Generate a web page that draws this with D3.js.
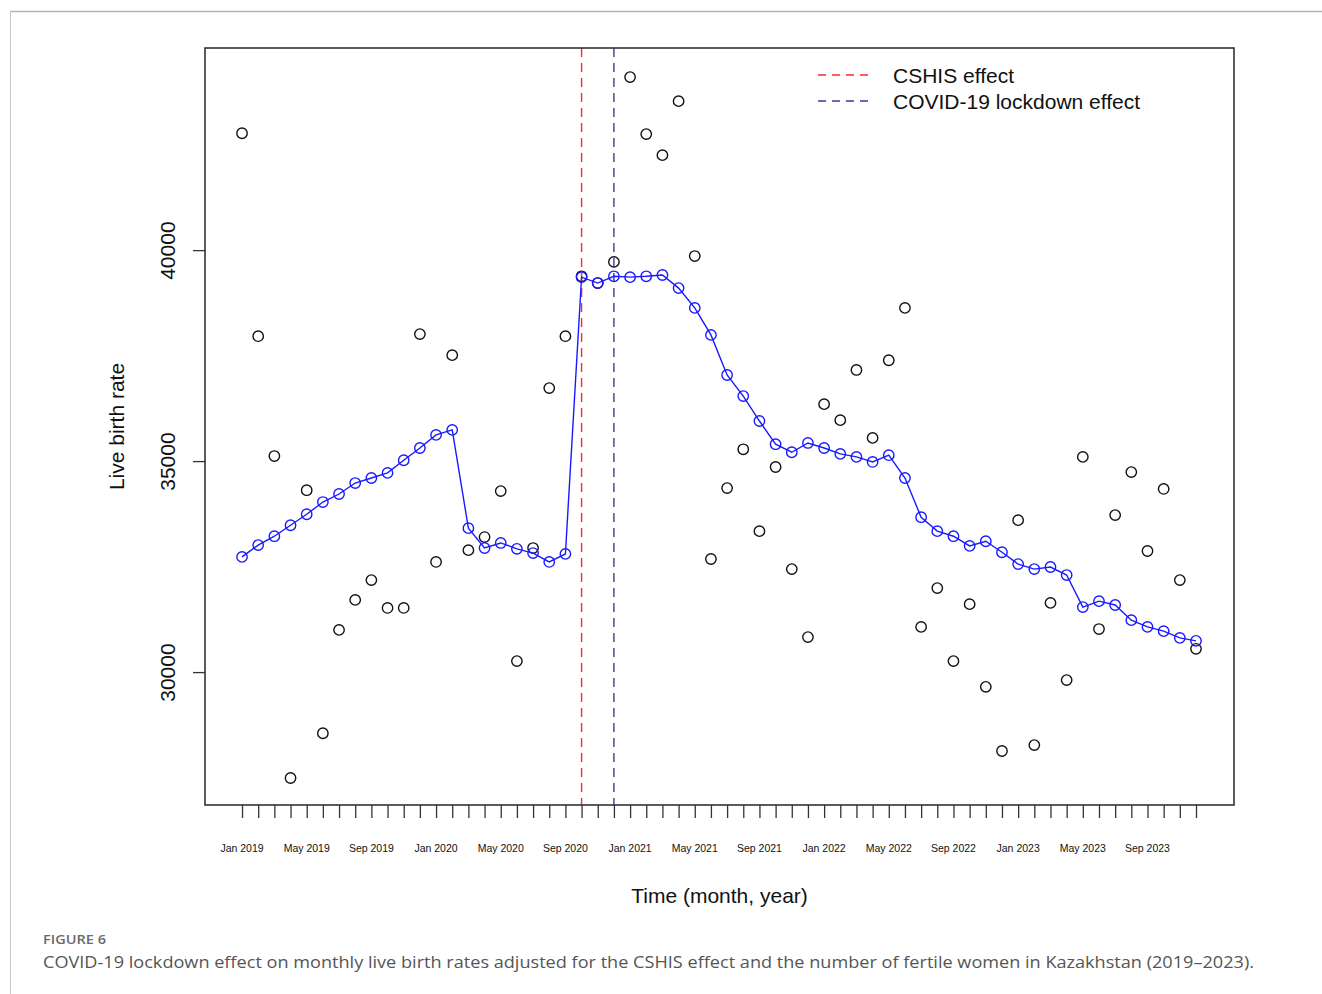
<!DOCTYPE html>
<html>
<head>
<meta charset="utf-8">
<script src="https://cdn.jsdelivr.net/npm/d3@7"></script>
<style>
  html, body { margin: 0; padding: 0; background: #fff; }
  #chart { width: 1322px; height: 994px; }
</style>
</head>
<body>
<div id="chart"></div>
<script>
// month labels Jan 2019 .. Dec 2023
const monthNames = ["Jan","Feb","Mar","Apr","May","Jun","Jul","Aug","Sep","Oct","Nov","Dec"];
const years = [2019, 2020, 2021, 2022, 2023];
const months = years.flatMap(y => monthNames.map(m => `${m} ${y}`));

// observed monthly live births (black circles)
const observed = [
  42770, 37960, 35120, 27490, 34310, 28550, 31000, 31710, 32180, 31520, 31520, 38010,
  32610, 37510, 32890, 33200, 34290, 30260, 32940, 36730, 37960, 39380, 39220, 39720,
  44100, 42750, 42250, 43530, 39860, 32680, 34360, 35280, 33340, 34860, 32440, 30830,
  36350, 35970, 37160, 35550, 37390, 38630, 31070, 31990, 30260, 31610, 29650, 28130,
  33600, 28270, 31640, 29810, 35100, 31020, 33720, 34740, 32870, 34340, 32180, 30550
];

// fitted values (blue line)
const fitted = [
  32730, 33010, 33220, 33480, 33740, 34030, 34220, 34480, 34600, 34720, 35020, 35310,
  35620, 35740, 33410, 32940, 33060, 32920, 32820, 32610, 32800, 39360, 39220, 39380,
  39360, 39380, 39410, 39100, 38630, 37990, 37040, 36540, 35950, 35400, 35210, 35430,
  35310, 35170, 35100, 34980, 35140, 34600, 33670, 33340, 33220, 32990, 33100, 32840,
  32560, 32440, 32490, 32300, 31540, 31680, 31590, 31230, 31070, 30970, 30810, 30740
];

const yTicks = [30000, 35000, 40000];
const xLabelEvery = 4; // Jan, May, Sep
const cshisIndex = 21;     // Oct 2020
const lockdownIndex = 23;  // Dec 2020

const legendItems = [
  { label: "CSHIS effect", color: "#ff2a2a" },
  { label: "COVID-19 lockdown effect", color: "#3b3b9c" }
];

const width = 1322, height = 994;
const box = { left: 205, right: 1234, top: 48, bottom: 805 };

const svg = d3.select("#chart").append("svg")
  .attr("width", width)
  .attr("height", height)
  .style("font-family", "'Liberation Sans', Arial, sans-serif");

// figure frame (journal style)
svg.append("line").attr("x1", 10).attr("x2", width).attr("y1", 11.5).attr("y2", 11.5)
  .attr("stroke", "#b4b4b4").attr("stroke-width", 1.5);
svg.append("line").attr("x1", 10.5).attr("x2", 10.5).attr("y1", 11).attr("y2", height)
  .attr("stroke", "#c4c4c4").attr("stroke-width", 1);

// month index scale, padded like R's default axis extension
const n = months.length;
const x = d3.scaleLinear().domain([-2.29, n - 1 + 2.35]).range([box.left, box.right]);
const y = d3.scaleLinear().domain([26850, 44790]).range([box.bottom, box.top]);

// reference lines
svg.append("line")
  .attr("x1", x(cshisIndex)).attr("x2", x(cshisIndex))
  .attr("y1", box.top).attr("y2", box.bottom)
  .attr("stroke", legendItems[0].color).attr("stroke-width", 1.4)
  .attr("stroke-dasharray", "9,6");
svg.append("line")
  .attr("x1", x(lockdownIndex)).attr("x2", x(lockdownIndex))
  .attr("y1", box.top).attr("y2", box.bottom)
  .attr("stroke", legendItems[1].color).attr("stroke-width", 1.4)
  .attr("stroke-dasharray", "9,6");

// observed points
svg.append("g")
  .selectAll("circle")
  .data(observed)
  .enter()
  .append("circle")
    .attr("cx", (d, i) => x(i))
    .attr("cy", d => y(d))
    .attr("r", 5.2)
    .attr("fill", "none")
    .attr("stroke", "#111")
    .attr("stroke-width", 1.4);

// fitted line + points
const line = d3.line().x((d, i) => x(i)).y(d => y(d));
svg.append("path")
  .datum(fitted)
  .attr("d", line)
  .attr("fill", "none")
  .attr("stroke", "#1a1aff")
  .attr("stroke-width", 1.4);
svg.append("g")
  .selectAll("circle")
  .data(fitted)
  .enter()
  .append("circle")
    .attr("cx", (d, i) => x(i))
    .attr("cy", d => y(d))
    .attr("r", 5.2)
    .attr("fill", "none")
    .attr("stroke", "#1a1aff")
    .attr("stroke-width", 1.4);

// plot box
svg.append("rect")
  .attr("x", box.left).attr("y", box.top)
  .attr("width", box.right - box.left).attr("height", box.bottom - box.top)
  .attr("fill", "none").attr("stroke", "#333").attr("stroke-width", 1.6);

// x axis: tick every month, label every 4th
const xAxis = svg.append("g")
  .attr("transform", `translate(0, ${box.bottom})`)
  .call(d3.axisBottom(x)
    .tickValues(d3.range(n))
    .tickSize(13)
    .tickFormat(() => ""));
xAxis.select(".domain").remove();
xAxis.selectAll(".tick line").attr("stroke", "#333").attr("stroke-width", 1.3);

svg.append("g")
  .selectAll("text")
  .data(months.map((m, i) => ({ m, i })).filter(d => d.i % xLabelEvery === 0))
  .enter()
  .append("text")
    .attr("x", d => x(d.i))
    .attr("y", 852)
    .attr("text-anchor", "middle")
    .attr("font-size", 10.5)
    .attr("fill", "#111")
    .text(d => d.m);

// y axis
const yAxis = svg.append("g")
  .attr("transform", `translate(${box.left}, 0)`)
  .call(d3.axisLeft(y).tickValues(yTicks).tickSize(12).tickFormat(d3.format("d")));
yAxis.select(".domain").remove();
yAxis.selectAll(".tick line").attr("stroke", "#333").attr("stroke-width", 1.3);
yAxis.selectAll(".tick text")
  .attr("font-size", 21)
  .attr("fill", "#111")
  .attr("font-family", "'Liberation Sans', Arial, sans-serif")
  .attr("text-anchor", "middle")
  .attr("x", 0).attr("dy", 0)
  .attr("transform", "translate(-30, 0) rotate(-90)")
  .attr("y", 0);

// axis titles
svg.append("text")
  .attr("transform", `translate(124, ${(box.top + box.bottom) / 2}) rotate(-90)`)
  .attr("text-anchor", "middle")
  .attr("font-size", 21)
  .attr("fill", "#111")
  .text("Live birth rate");
svg.append("text")
  .attr("x", (box.left + box.right) / 2)
  .attr("y", 903)
  .attr("text-anchor", "middle")
  .attr("font-size", 21)
  .attr("fill", "#111")
  .text("Time (month, year)");

// legend (no box)
const legend = svg.append("g");
legendItems.forEach((d, i) => {
  const ly = 75 + i * 26;
  legend.append("line")
    .attr("x1", 818).attr("x2", 870).attr("y1", ly).attr("y2", ly)
    .attr("stroke", d.color).attr("stroke-width", 1.4)
    .attr("stroke-dasharray", "8,6");
  legend.append("text")
    .attr("x", 893).attr("y", ly + 7.5)
    .attr("font-size", 21)
    .attr("fill", "#111")
    .text(d.label);
});

// caption
svg.append("text")
  .attr("x", 43).attr("y", 944)
  .attr("font-family", "'Open Sans', sans-serif")
  .attr("font-size", 13)
  .attr("font-weight", 600)
  .attr("fill", "#6a6a6a")
  .attr("textLength", 63)
  .attr("lengthAdjust", "spacingAndGlyphs")
  .text("FIGURE 6");
svg.append("text")
  .attr("x", 43).attr("y", 968)
  .attr("font-family", "'Open Sans', sans-serif")
  .attr("font-size", 17)
  .attr("fill", "#555")
  .attr("textLength", 1211)
  .attr("lengthAdjust", "spacingAndGlyphs")
  .text("COVID-19 lockdown effect on monthly live birth rates adjusted for the CSHIS effect and the number of fertile women in Kazakhstan (2019\u20132023).");
</script>
</body>
</html>
